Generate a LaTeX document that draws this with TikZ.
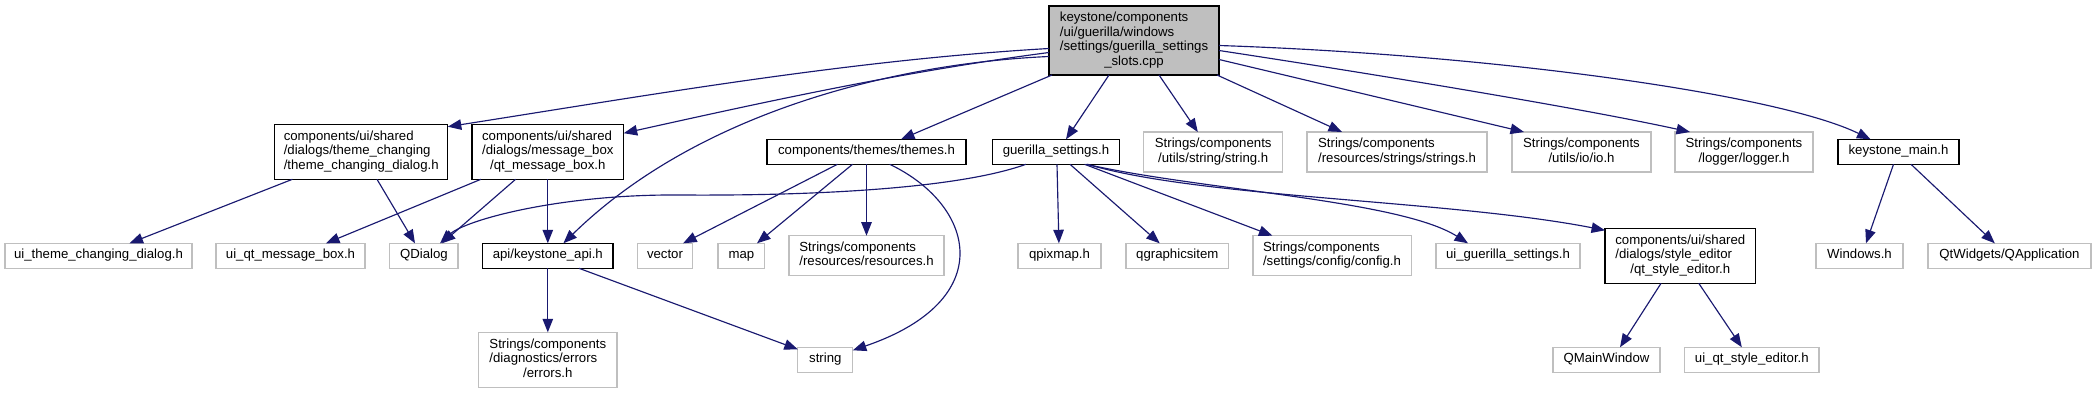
\documentclass[tikz,border=0pt]{standalone}
\usepackage{fontspec}
\setmainfont{Liberation Sans}
\usetikzlibrary{arrows.meta,calc}
\definecolor{edgecol}{HTML}{191970}
\definecolor{graybd}{HTML}{BFBFBF}
\newcommand{\ml}[1]{\begin{tabular}{@{}l@{}}#1\end{tabular}}
\newcommand{\lastc}[1]{\multicolumn{1}{@{}c@{}}{#1}}
\begin{document}
\begin{tikzpicture}[x=1pt,y=-1pt,
  nbox/.style={draw=black, line width=1.33pt, inner sep=0pt, outer sep=0pt,
    font=\fontsize{13.2}{14.5}\selectfont, fill=white},
  gbox/.style={nbox, draw=graybd},
  mbox/.style={nbox, fill=graybd},
  sz/.style 2 args={minimum width=#1pt, minimum height=#2pt},
  conn/.style={draw=edgecol, line width=1.15pt, -{Triangle[length=13.5pt,width=10.5pt]}},
]
\useasboundingbox (0,0) rectangle (2096,393);

% top
\node[mbox, sz={170}{69}] (main) at (1134,40.5)
  {\ml{keystone/components\\/ui/guerilla/windows\\/settings/guerilla\_settings\\\lastc{\_slots.cpp}}};

% row 1
\node[nbox, sz={173.2}{54.6}] (theme) at (361.2,152)
  {\ml{components/ui/shared\\/dialogs/theme\_changing\\\lastc{/theme\_changing\_dialog.h}}};
\node[nbox, sz={151.8}{54.6}] (qtmsg) at (547.8,152)
  {\ml{components/ui/shared\\/dialogs/message\_box\\\lastc{/qt\_message\_box.h}}};
\node[nbox, sz={199}{25}] (themes) at (866.5,151.8) {\ml{components/themes/themes.h}};
\node[nbox, sz={127.2}{25}] (guer) at (1056,151.8) {\ml{guerilla\_settings.h}};
\node[gbox, sz={138.8}{40}] (stringh) at (1213.2,152)
  {\ml{Strings/components\\\lastc{/utils/string/string.h}}};
\node[gbox, sz={180}{40}] (stringsh) at (1397,152)
  {\ml{Strings/components\\\lastc{/resources/strings/strings.h}}};
\node[gbox, sz={139}{40}] (io) at (1581.5,152)
  {\ml{Strings/components\\\lastc{/utils/io/io.h}}};
\node[gbox, sz={138}{40}] (logger) at (1744,152)
  {\ml{Strings/components\\\lastc{/logger/logger.h}}};
\node[nbox, sz={121}{25}] (kmain) at (1898.5,151.8) {\ml{keystone\_main.h}};

% row 2
\node[gbox, sz={187.1}{25}] (uitheme) at (98.5,255.8) {\ml{ui\_theme\_changing\_dialog.h}};
\node[gbox, sz={149}{25}] (uiqtmsg) at (290.5,255.8) {\ml{ui\_qt\_message\_box.h}};
\node[gbox, sz={68.3}{25}] (qdialog) at (423.9,255.8) {\ml{QDialog}};
\node[nbox, sz={130.4}{25}] (api) at (547.8,255.8) {\ml{api/keystone\_api.h}};
\node[gbox, sz={55.5}{25}] (vector) at (665,255.8) {\ml{vector}};
\node[gbox, sz={46.7}{25}] (map) at (741.4,255.8) {\ml{map}};
\node[gbox, sz={155}{40}] (resources) at (866.5,255.7)
  {\ml{Strings/components\\\lastc{/resources/resources.h}}};
\node[gbox, sz={83}{25}] (qpixmap) at (1059.5,255.8) {\ml{qpixmap.h}};
\node[gbox, sz={102.6}{25}] (qgraphicsitem) at (1177.3,255.8) {\ml{qgraphicsitem}};
\node[gbox, sz={158.3}{40}] (config) at (1332,255.7)
  {\ml{Strings/components\\\lastc{/settings/config/config.h}}};
\node[gbox, sz={144}{25}] (uiguer) at (1508,255.8) {\ml{ui\_guerilla\_settings.h}};
\node[nbox, sz={150.5}{55}] (styleed) at (1680.3,255.8)
  {\ml{components/ui/shared\\/dialogs/style\_editor\\\lastc{/qt\_style\_editor.h}}};
\node[gbox, sz={87}{25}] (windows) at (1859.5,255.8) {\ml{Windows.h}};
\node[gbox, sz={163}{25}] (qapp) at (2009.5,255.8) {\ml{QtWidgets/QApplication}};

% row 3
\node[gbox, sz={138.4}{55}] (errors) at (547.8,359.8)
  {\ml{Strings/components\\/diagnostics/errors\\\lastc{/errors.h}}};
\node[gbox, sz={55}{25.4}] (string) at (825.3,360) {\ml{string}};
\node[gbox, sz={107}{25.5}] (qmainwin) at (1606.5,360) {\ml{QMainWindow}};
\node[gbox, sz={134.5}{25.5}] (uistyle) at (1751.8,360) {\ml{ui\_qt\_style\_editor.h}};

% edges from main
\draw[conn] ($(main.west)+(0,8)$) .. controls (850,60) and (650,95) .. ($(theme.north east)+(0,2)$);
\draw[conn] ($(main.west)+(0,12)$) .. controls (900,72) and (760,103) .. ($(qtmsg.north east)+(0,8.5)$);
\draw[conn] ($(main.west)+(0,16)$) .. controls (900,63) and (700,110) .. ($(api.north)+(15.6,0)$);
\draw[conn] ($(main.south west)+(3,0)$) -- ($(themes.north)+(34.5,0)$);
\draw[conn] ($(main.south west)+(60,0)$) -- ($(guer.north)+(10,0)$);
\draw[conn] ($(main.south west)+(110,0)$) -- ($(stringh.north)+(-15.4,0)$);
\draw[conn] ($(main.south east)+(-2,0)$) -- ($(stringsh.north)+(-55,0)$);
\draw[conn] ($(main.east)+(0,19)$) -- ($(io.north)+(-57.5,0)$);
\draw[conn] ($(main.east)+(0,10)$) .. controls (1380,75) and (1580,108) .. ($(logger.north)+(-54,0)$);
\draw[conn] ($(main.east)+(0,5)$) .. controls (1500,55) and (1780,95) .. ($(kmain.north)+(-28,0)$);

% theme / qtmsg
\draw[conn] ($(theme.south west)+(17.8,0)$) -- ($(uitheme.north)+(31,0)$);
\draw[conn] ($(theme.south west)+(102.4,0)$) -- ($(qdialog.north)+(-8.9,0)$);
\draw[conn] ($(qtmsg.south west)+(9,0)$) -- ($(uiqtmsg.north)+(35.5,0)$);
\draw[conn] ($(qtmsg.south west)+(43.7,0)$) -- ($(qdialog.north)+(18,0)$);
\draw[conn] (qtmsg.south) -- (api.north);

% api
\draw[conn] (api.south) -- (errors.north);
\draw[conn] ($(api.south)+(31.2,0)$) -- ($(string.north west)+(0,2)$);

% themes
\draw[conn] ($(themes.south west)+(70.4,0)$) -- ($(vector.north east)+(-9.6,0)$);
\draw[conn] ($(themes.south west)+(85.5,0)$) -- ($(map.north)+(15.6,0)$);
\draw[conn] (themes.south) -- (resources.north);
\draw[conn] ($(themes.south west)+(122.7,0)$) .. controls (975,205) and (1000,300) .. ($(string.north east)+(0,3)$);

% guerilla_settings
\draw[conn] ($(guer.south west)+(33.5,0)$) .. controls (960,188) and (820,196) .. (680,195)
  .. controls (560,194) and (465,220) .. ($(qdialog.north east)+(-18,0)$);
\draw[conn] ($(guer.south)+(1,0)$) -- ($(qpixmap.north)+(-0.6,0)$);
\draw[conn] ($(guer.south)+(14,0)$) -- ($(qgraphicsitem.north)+(-17.6,0)$);
\draw[conn] ($(guer.south)+(28.6,0)$) -- ($(config.north)+(-59.6,0)$);
\draw[conn] ($(guer.south)+(30.5,0)$) .. controls (1200,190) and (1400,200) .. ($(uiguer.north)+(-40,0)$);
\draw[conn] ($(guer.south)+(31.5,0)$) .. controls (1200,198) and (1450,200) .. ($(styleed.north west)+(0,2)$);

% style editor
\draw[conn] ($(styleed.south west)+(56,0)$) -- ($(qmainwin.north)+(13.5,0)$);
\draw[conn] ($(styleed.south west)+(93.7,0)$) -- ($(uistyle.north)+(-10,0)$);

% keystone_main
\draw[conn] ($(kmain.south)+(-5,0)$) -- ($(windows.north)+(6.5,0)$);
\draw[conn] ($(kmain.south)+(12.5,0)$) -- ($(qapp.north)+(-14.7,0)$);
\end{tikzpicture}
\end{document}
